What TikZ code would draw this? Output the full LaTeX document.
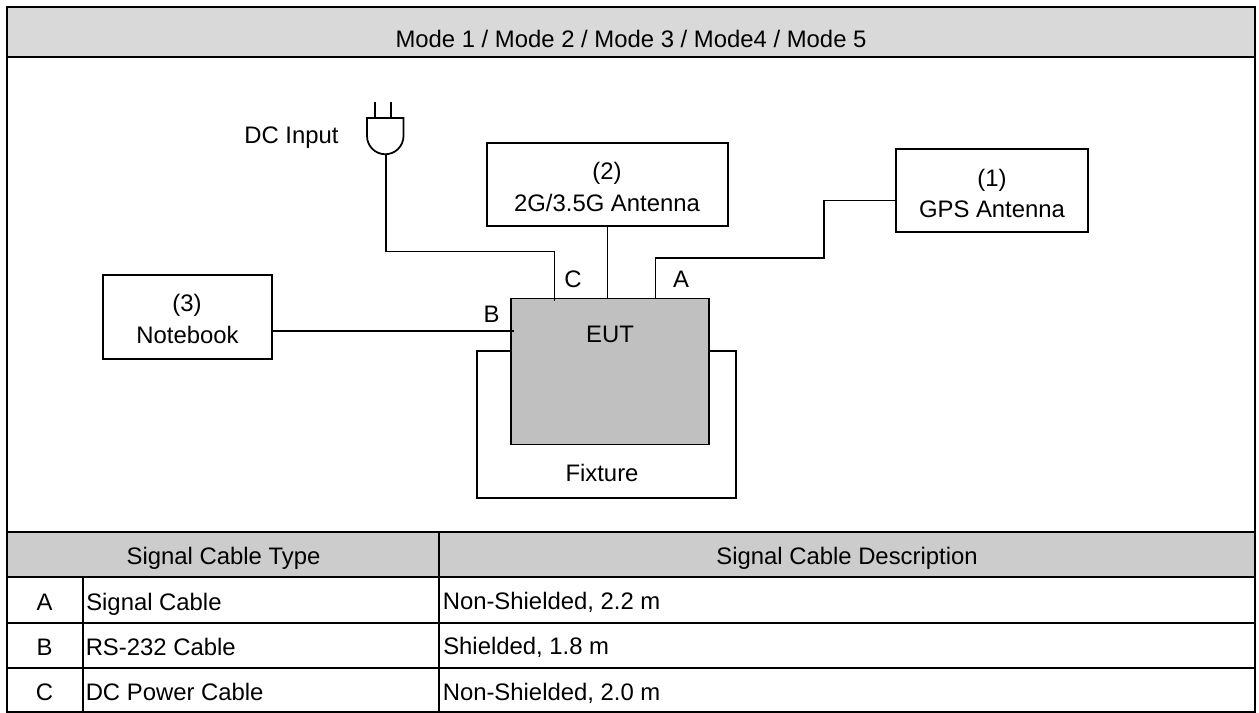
\documentclass[tikz,border=0pt]{standalone}
\usepackage{fontspec}
\setmainfont{Liberation Sans}
\tikzset{
  x=0.75pt,y=-0.75pt,
  thick line/.style={line width=2pt,draw=black},
  wire/.style={line width=1.3pt,draw=black},
  lbl/.style={inner sep=0pt,anchor=base,font=\fontsize{17.9pt}{21pt}\selectfont,text=black},
  box/.style={wire,fill=white,inner sep=0pt},
}
\definecolor{headA}{HTML}{D9D9D9}
\definecolor{headB}{HTML}{CCCCCC}
\definecolor{eutgray}{HTML}{C0C0C0}
\begin{document}
\begin{tikzpicture}
\useasboundingbox (0,0) rectangle (1259,713);
% header fills
\fill[headA] (7,7) rectangle (1255,57);
\fill[headB] (7,532) rectangle (1255,577);
% diagram boxes
\node[box,minimum width=241*0.75pt,minimum height=83*0.75pt] (ant2) at (607.5,184.5) {};
\node[box,minimum width=192*0.75pt,minimum height=83*0.75pt] (gps) at (992,190.5) {};
\node[box,minimum width=169*0.75pt,minimum height=84*0.75pt] (nb) at (187.5,317) {};
\node[wire,minimum width=259*0.75pt,minimum height=147*0.75pt,inner sep=0pt] (fix) at (606.5,424.5) {};
\node[wire,fill=eutgray,minimum width=198*0.75pt,minimum height=146*0.75pt,inner sep=0pt] (eut) at (610,371.5) {};
\node[lbl] (ant2a) at (607,180) {(2)};
\node[lbl] (ant2b) at (607,211) {2G/3.5G Antenna};
\node[lbl] (gpsa) at (992,186.5) {(1)};
\node[lbl] (gpsb) at (992,217) {GPS Antenna};
\node[lbl] (nba) at (187,311.5) {(3)};
\node[lbl] (nbb) at (187.5,343) {Notebook};
\node[lbl] (eutl) at (610,342) {EUT};
\node[lbl] (fixl) at (602,481.5) {Fixture};
% plug
\coordinate (plugb) at (386,154);
\coordinate (pa) at (375,102);
\coordinate (pb) at (391,102);
\coordinate (pa2) at (375,118);
\coordinate (pb2) at (391,118);
\draw[wire] (367,118) -- (403.5,118) -- (403.5,136) arc[start angle=0,end angle=-180,radius=18.25*0.75pt] -- cycle;
\draw[wire] (pa) -- (pa2);
\draw[wire] (pb) -- (pb2);
% connectors
\coordinate (eutC) at (554.5,301);
\coordinate (eutB) at (514,331);
\coordinate (eutA) at (655.5,299);
\coordinate (eutD) at (607.5,299);
\draw[wire] (plugb) -- (386,251.5) -- (554.5,251.5) -- (eutC);
\draw[wire] (ant2.south -| eutD) -- (eutD);
\draw[wire] (eutA) -- (655.5,258) -- (824,258) -- (824,200.5) -- (gps.west |- 0,200.5);
\draw[wire] (nb.east |- eutB) -- (eutB);
\node[lbl] (lc) at (573,287) {C};
\node[lbl] (la) at (681,287) {A};
\node[lbl] (lb) at (491.5,322) {B};
\node[lbl] (dc) at (291.5,144) {DC Input};
% table text
\node[lbl] (t0) at (631,47.5) {Mode 1 / Mode 2 / Mode 3 / Mode4 / Mode 5};
\node[lbl] (t1) at (223.5,564.5) {Signal Cable Type};
\node[lbl] (t2) at (847,564.5) {Signal Cable Description};
\node[lbl] (ra) at (44.5,610) {A};
\node[lbl] (rb) at (44.5,655) {B};
\node[lbl] (rc) at (44.5,700.5) {C};
\node[lbl,anchor=base west] (r1) at (86,610) {Signal Cable};
\node[lbl,anchor=base west] (r2) at (85.5,655) {RS-232 Cable};
\node[lbl,anchor=base west] (r3) at (85.5,700.5) {DC Power Cable};
\node[lbl,anchor=base west] (d1) at (442.5,609.5) {Non-Shielded, 2.2 m};
\node[lbl,anchor=base west] (d2) at (443,654.5) {Shielded, 1.8 m};
\node[lbl,anchor=base west] (d3) at (442.5,700) {Non-Shielded, 2.0 m};
% table lines
\draw[thick line] (7,7) rectangle (1255,712);
\foreach \yy in {57,532,577,623,668} \draw[thick line] (7,\yy) -- (1255,\yy);
\draw[thick line] (439,532) -- (439,712);
\draw[thick line] (83,577) -- (83,712);
\end{tikzpicture}
\end{document}
